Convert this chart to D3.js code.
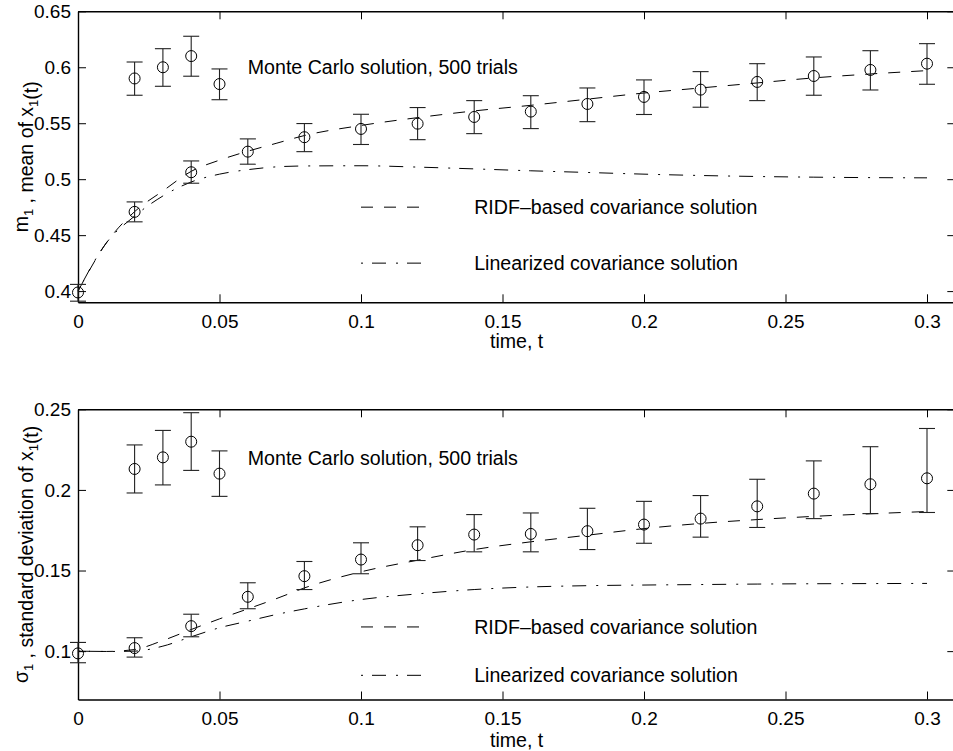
<!DOCTYPE html>
<html>
<head>
<meta charset="utf-8">
<script src="https://cdn.jsdelivr.net/npm/d3@7"></script>
<style>
  html, body { margin: 0; padding: 0; background: #fff; }
  svg { display: block; }
  text { font-family: "Liberation Sans", Arial, Helvetica, sans-serif; fill: #000; }
</style>
</head>
<body>
<svg id="chart" width="953" height="751"></svg>
<script>
// ---------- data ----------
const xTicks = [0, 0.05, 0.1, 0.15, 0.2, 0.25, 0.3];
const xTickLabels = ["0", "0.05", "0.1", "0.15", "0.2", "0.25", "0.3"];
const meanTicks = [0.4, 0.45, 0.5, 0.55, 0.6, 0.65];
const meanTickLabels = ["0.4", "0.45", "0.5", "0.55", "0.6", "0.65"];
const sdTicks = [0.1, 0.15, 0.2, 0.25];
const sdTickLabels = ["0.1", "0.15", "0.2", "0.25"];

// Monte Carlo samples
const mcTime = [0, 0.02, 0.04, 0.06, 0.08, 0.1, 0.12, 0.14, 0.16, 0.18, 0.2, 0.22, 0.24, 0.26, 0.28, 0.3];
const mcMean = [0.3988, 0.4708, 0.5062, 0.5246, 0.5375, 0.5449, 0.5496, 0.5556, 0.5604, 0.5672, 0.5735, 0.58, 0.5869, 0.5922, 0.5976, 0.6032];
const mcMeanLo = [0.391, 0.4619, 0.4964, 0.5134, 0.5246, 0.531, 0.5353, 0.5407, 0.5452, 0.5514, 0.5578, 0.5643, 0.5702, 0.575, 0.5797, 0.5848];
const mcMeanHi = [0.406, 0.4797, 0.5163, 0.536, 0.5497, 0.558, 0.564, 0.5702, 0.5746, 0.5815, 0.5887, 0.5961, 0.6032, 0.6092, 0.6148, 0.6211];
const mcSd = [0.0986, 0.1019, 0.1155, 0.1337, 0.1465, 0.1568, 0.1657, 0.1723, 0.1727, 0.1744, 0.1785, 0.1822, 0.1898, 0.1977, 0.2035, 0.2072];
const mcSdLo = [0.0928, 0.0963, 0.1089, 0.1263, 0.1382, 0.148, 0.1562, 0.1616, 0.1616, 0.163, 0.1669, 0.1707, 0.1767, 0.1822, 0.1853, 0.186];
const mcSdHi = [0.1054, 0.1083, 0.1229, 0.1424, 0.1556, 0.1672, 0.1771, 0.1847, 0.1857, 0.1886, 0.1929, 0.1965, 0.2066, 0.218, 0.2268, 0.2381];

// Monte Carlo legend sample markers
const legTime = [0.02, 0.03, 0.04, 0.05];
const legMean = [0.59, 0.6, 0.61, 0.585];
const legMeanLo = [0.575, 0.583, 0.592, 0.571];
const legMeanHi = [0.6047, 0.6166, 0.6277, 0.5985];
const legSd = [0.213, 0.2202, 0.2299, 0.2101];
const legSdLo = [0.1981, 0.2031, 0.2121, 0.196];
const legSdHi = [0.2279, 0.2369, 0.2479, 0.2242];

// analytic curves
const curveTime = [0, 0.01, 0.02, 0.03, 0.04, 0.05, 0.06, 0.07, 0.08, 0.1, 0.12, 0.14, 0.16, 0.18, 0.2, 0.22, 0.24, 0.26, 0.28, 0.3];
const meanRIDF = [0.4, 0.443, 0.471, 0.4895, 0.507, 0.517, 0.525, 0.532, 0.539, 0.548, 0.555, 0.561, 0.566, 0.5715, 0.577, 0.5815, 0.586, 0.5905, 0.594, 0.597];
const meanLin = [0.4, 0.443, 0.467, 0.485, 0.4975, 0.5045, 0.5085, 0.511, 0.5118, 0.512, 0.5108, 0.5092, 0.5075, 0.506, 0.5045, 0.5033, 0.5024, 0.5018, 0.5014, 0.5012];
const sdRIDF = [0.1, 0.0998, 0.101, 0.1066, 0.1134, 0.12, 0.1262, 0.1325, 0.1392, 0.1492, 0.1564, 0.163, 0.1678, 0.1719, 0.176, 0.1792, 0.1816, 0.1836, 0.1852, 0.1866];
const sdLin = [0.1, 0.0998, 0.1, 0.1031, 0.1089, 0.1145, 0.1186, 0.1227, 0.1262, 0.132, 0.1355, 0.1382, 0.1398, 0.1406, 0.141, 0.1413, 0.1416, 0.1418, 0.1419, 0.142];

const mcText = "Monte Carlo solution, 500 trials";
const ridfText = "RIDF\u2013based covariance solution";
const linText = "Linearized covariance solution";

// ---------- drawing ----------
const svg = d3.select("#chart");
svg.append("rect").attr("width", 953).attr("height", 751).attr("fill", "#fff");

const DASH = "12,11";
const DASHDOT = "2,9,14,10";
const FS = 19;
const FSA = 19.6;

function panel(cfg) {
  const x = d3.scaleLinear().domain([0, 0.31]).range([78, 78 + 0.31 * 2830]);
  const y = d3.scaleLinear().domain(cfg.yDomain).range([cfg.bottom, cfg.top]);
  const g = svg.append("g");

  // axes
  const styleAxis = sel => {
    sel.select(".domain").attr("stroke", "#000").attr("stroke-width", 1.4);
    sel.selectAll(".tick line").attr("stroke", "#000").attr("stroke-width", 1);
    sel.selectAll("text").attr("font-size", FS).attr("font-family", "'Liberation Sans', Arial, Helvetica, sans-serif").attr("fill", "#000");
  };
  g.append("g").attr("transform", `translate(0,${cfg.bottom})`)
    .call(d3.axisBottom(x).tickValues(xTicks).tickFormat((d, i) => xTickLabels[i]).tickSize(-8).tickSizeOuter(0).tickPadding(12))
    .call(styleAxis);
  g.append("g").attr("transform", `translate(0,${cfg.top})`)
    .call(d3.axisTop(x).tickValues(xTicks).tickFormat("").tickSize(-8).tickSizeOuter(0))
    .call(styleAxis);
  g.append("g").attr("transform", `translate(78,0)`)
    .call(d3.axisLeft(y).tickValues(cfg.yTicks).tickFormat((d, i) => cfg.yTickLabels[i]).tickSize(-8).tickSizeOuter(0).tickPadding(7))
    .call(styleAxis);
  g.append("g").attr("transform", `translate(${x(0.31)},0)`)
    .call(d3.axisRight(y).tickValues(cfg.yTicks).tickFormat("").tickSize(-8).tickSizeOuter(0))
    .call(styleAxis);

  // x label
  g.append("text").attr("x", x(0.155)).attr("y", cfg.xLabelY)
    .attr("text-anchor", "middle").attr("font-size", FSA).text("time, t");

  // y label (rotated)
  const yl = g.append("text")
    .attr("transform", `translate(28,${(cfg.top + cfg.bottom) / 2}) rotate(-90)`)
    .attr("text-anchor", "middle").attr("font-size", 19.5);
  cfg.yLabel.forEach(p => {
    if (p.sub) {
      yl.append("tspan").attr("dy", 5).attr("font-size", 13).text(p.t);
      yl.append("tspan").attr("dy", -5).text("");
    } else {
      yl.append("tspan").text(p.t);
    }
  });

  // curves
  const line = d3.line().x(d => x(d[0])).y(d => y(d[1])).curve(d3.curveMonotoneX);
  g.append("path").datum(curveTime.map((t, i) => [t, cfg.ridf[i]]))
    .attr("d", line).attr("fill", "none").attr("stroke", "#000").attr("stroke-width", 1)
    .attr("stroke-dasharray", DASH);
  g.append("path").datum(curveTime.map((t, i) => [t, cfg.lin[i]]))
    .attr("d", line).attr("fill", "none").attr("stroke", "#000").attr("stroke-width", 1)
    .attr("stroke-dasharray", DASHDOT);

  // error bars + circles
  function errbars(ts, vs, lo, hi) {
    const data = ts.map((t, i) => ({ t, v: vs[i], lo: lo[i], hi: hi[i] }));
    const eg = g.append("g").attr("stroke", "#222").attr("stroke-width", 1.1).attr("fill", "none");
    eg.selectAll(".v").data(data).join("line")
      .attr("x1", d => x(d.t)).attr("x2", d => x(d.t))
      .attr("y1", d => y(d.lo)).attr("y2", d => y(d.hi));
    eg.selectAll(".capH").data(data).join("line")
      .attr("x1", d => x(d.t) - 8).attr("x2", d => x(d.t) + 8)
      .attr("y1", d => y(d.hi)).attr("y2", d => y(d.hi));
    eg.selectAll(".capL").data(data).join("line")
      .attr("x1", d => x(d.t) - 8).attr("x2", d => x(d.t) + 8)
      .attr("y1", d => y(d.lo)).attr("y2", d => y(d.lo));
    g.append("g").selectAll("circle").data(data).join("circle")
      .attr("cx", d => x(d.t)).attr("cy", d => y(d.v)).attr("r", 5.5)
      .attr("fill", "none").attr("stroke", "#000").attr("stroke-width", 1);
  }
  errbars(mcTime, cfg.mc, cfg.mcLo, cfg.mcHi);
  errbars(legTime, cfg.leg, cfg.legLo, cfg.legHi);

  // annotations / legend
  g.append("text").attr("x", x(0.06)).attr("y", y(cfg.mcTextY)).attr("dy", "0.35em")
    .attr("font-size", FSA).text(mcText);
  g.append("line").attr("x1", x(0.1)).attr("x2", x(0.1208))
    .attr("y1", y(cfg.ridfLegY)).attr("y2", y(cfg.ridfLegY))
    .attr("stroke", "#000").attr("stroke-width", 1).attr("stroke-dasharray", DASH);
  g.append("text").attr("x", x(0.14)).attr("y", y(cfg.ridfLegY)).attr("dy", "0.35em")
    .attr("font-size", FSA).text(ridfText);
  g.append("line").attr("x1", x(0.1)).attr("x2", x(0.1238))
    .attr("y1", y(cfg.linLegY)).attr("y2", y(cfg.linLegY))
    .attr("stroke", "#000").attr("stroke-width", 1).attr("stroke-dasharray", DASHDOT);
  g.append("text").attr("x", x(0.14)).attr("y", y(cfg.linLegY)).attr("dy", "0.35em")
    .attr("font-size", FSA).text(linText);
}

panel({
  yDomain: [0.39, 0.65], top: 11.3, bottom: 302.3,
  yTicks: meanTicks, yTickLabels: meanTickLabels,
  xLabelY: 348,
  yLabel: [{ t: "m" }, { t: "1", sub: true }, { t: " , mean of x" }, { t: "1", sub: true }, { t: "(t)" }],
  ridf: meanRIDF, lin: meanLin,
  mc: mcMean, mcLo: mcMeanLo, mcHi: mcMeanHi,
  leg: legMean, legLo: legMeanLo, legHi: legMeanHi,
  mcTextY: 0.6, ridfLegY: 0.475, linLegY: 0.425
});

panel({
  yDomain: [0.07, 0.25], top: 409.3, bottom: 699.5,
  yTicks: sdTicks, yTickLabels: sdTickLabels,
  xLabelY: 746.5,
  yLabel: [{ t: "\u03c3" }, { t: "1", sub: true }, { t: " , standard deviation of x" }, { t: "1", sub: true }, { t: "(t)" }],
  ridf: sdRIDF, lin: sdLin,
  mc: mcSd, mcLo: mcSdLo, mcHi: mcSdHi,
  leg: legSd, legLo: legSdLo, legHi: legSdHi,
  mcTextY: 0.22, ridfLegY: 0.115, linLegY: 0.085
});
</script>
</body>
</html>
